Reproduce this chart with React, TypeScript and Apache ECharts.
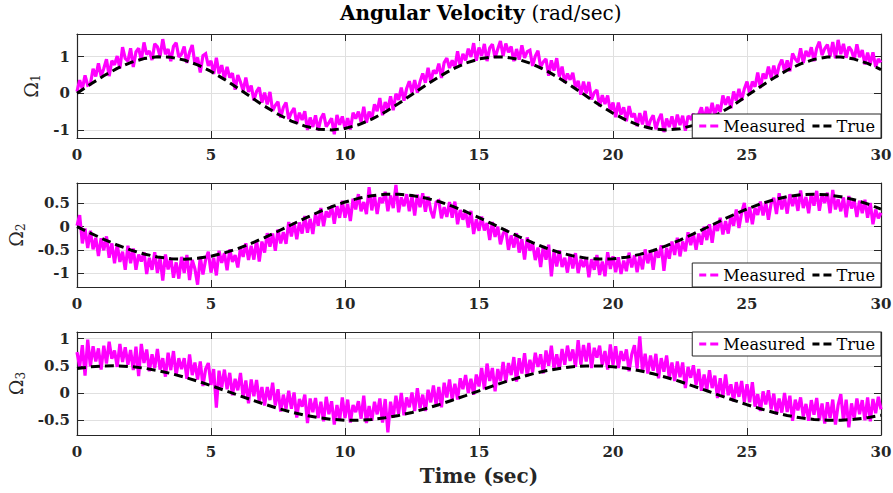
import React, { useEffect, useRef } from "react";
import * as echarts from "echarts";

// Sampling grids (seconds)
const timeMeasured: number[] = Array.from({ length: 301 }, (_, i) => i / 10);
const timeTrue: number[] = Array.from({ length: 61 }, (_, i) => i / 2);

// True angular velocities (every 0.5 s)
const omega1True = [0, 0.247, 0.479, 0.682, 0.841, 0.949, 0.997, 0.984, 0.909, 0.778, 0.598, 0.382, 0.141, -0.108, -0.351, -0.572, -0.757, -0.895, -0.978, -0.999, -0.959, -0.859, -0.706, -0.51, -0.279, -0.033, 0.215, 0.45, 0.657, 0.823, 0.938, 0.995, 0.989, 0.922, 0.798, 0.624, 0.412, 0.174, -0.075, -0.319, -0.544, -0.735, -0.88, -0.971, -1.0, -0.967, -0.875, -0.726, -0.537, -0.318, -0.066, 0.182, 0.42, 0.631, 0.804, 0.927, 0.991, 0.994, 0.935, 0.816, 0.65];
const omega2True = [0, -0.139, -0.272, -0.396, -0.502, -0.589, -0.652, -0.69, -0.7, -0.682, -0.636, -0.566, -0.473, -0.361, -0.235, -0.099, 0.041, 0.179, 0.31, 0.428, 0.53, 0.61, 0.667, 0.696, 0.697, 0.671, 0.618, 0.541, 0.442, 0.326, 0.195, 0.058, -0.082, -0.218, -0.346, -0.46, -0.556, -0.629, -0.678, -0.699, -0.692, -0.659, -0.598, -0.514, -0.41, -0.288, -0.156, -0.018, 0.122, 0.256, 0.381, 0.49, 0.58, 0.647, 0.687, 0.7, 0.686, 0.645, 0.579, 0.489, 0.376];
const omega3True = [0.449, 0.481, 0.497, 0.499, 0.485, 0.457, 0.414, 0.359, 0.293, 0.218, 0.136, 0.05, -0.037, -0.123, -0.206, -0.282, -0.349, -0.406, -0.451, -0.482, -0.498, -0.499, -0.485, -0.455, -0.412, -0.356, -0.289, -0.214, -0.132, -0.046, 0.041, 0.127, 0.21, 0.285, 0.352, 0.408, 0.452, 0.483, 0.498, 0.498, 0.483, 0.453, 0.409, 0.353, 0.286, 0.211, 0.128, 0.042, -0.046, -0.132, -0.214, -0.289, -0.356, -0.412, -0.455, -0.484, -0.499, -0.498, -0.483, -0.452, -0.408];

// Measured angular velocities (every 0.1 s)
const omega1Measured = [
  0.05, 0.36, 0.12, 0.49, 0.22, 0.25, 0.67, 0.46, 0.82, 0.47,
  0.68, 0.93, 0.47, 0.89, 0.78, 1.02, 0.68, 1.26, 0.95, 0.88,
  1.23, 0.72, 1.13, 1.23, 0.91, 1.39, 1.06, 1.16, 0.91, 1.35,
  1.27, 1.01, 1.48, 1.07, 1.21, 0.88, 1.28, 1.38, 0.99, 1.07,
  1.28, 0.83, 1.12, 1.32, 0.80, 0.98, 0.57, 1.03, 1.08, 0.75,
  0.89, 0.53, 0.97, 0.54, 0.77, 0.40, 0.72, 0.43, 0.55, 0.10,
  0.50, 0.31, 0.07, 0.43, 0.04, 0.21, -0.19, 0.05, 0.16, -0.25,
  0.02, -0.30, 0.04, -0.48, -0.33, -0.23, -0.66, -0.38, -0.25, -0.70,
  -0.52, -0.40, -0.83, -0.53, -0.73, -0.49, -1.00, -0.66, -0.92, -0.60,
  -1.01, -0.69, -0.55, -0.91, -0.80, -0.68, -1.12, -0.59, -0.86, -0.63,
  -0.96, -0.68, -0.99, -0.53, -0.69, -0.50, -0.78, -0.37, -0.80, -0.50,
  -0.69, -0.30, -0.49, -0.13, -0.60, -0.24, -0.43, -0.08, -0.46, -0.01,
  -0.18, 0.16, -0.20, 0.13, 0.33, 0.02, 0.36, 0.02, 0.32, 0.54,
  0.29, 0.70, 0.31, 0.63, 0.54, 0.81, 0.42, 0.84, 0.96, 0.69,
  0.90, 0.71, 1.15, 0.74, 1.08, 0.90, 1.22, 0.99, 1.37, 0.89,
  1.25, 1.02, 1.35, 0.88, 1.24, 1.34, 0.97, 1.21, 1.43, 1.02,
  1.36, 1.12, 1.28, 0.88, 1.21, 0.92, 1.31, 0.97, 1.14, 1.18,
  0.75, 1.02, 1.16, 0.72, 0.86, 0.94, 0.48, 0.90, 0.62, 0.96,
  0.46, 0.73, 0.29, 0.54, 0.37, 0.56, 0.15, 0.34, -0.04, 0.32,
  0.00, 0.31, -0.17, 0.02, 0.09, -0.35, -0.05, -0.29, -0.06, -0.48,
  -0.25, -0.65, -0.25, -0.58, -0.38, -0.76, -0.35, -0.65, -0.55, -0.90,
  -0.54, -0.85, -0.48, -0.97, -0.73, -0.60, -0.98, -0.72, -0.56, -1.06,
  -0.69, -0.92, -0.63, -0.96, -0.58, -0.87, -0.61, -1.02, -0.62, -0.69,
  -0.56, -0.88, -0.58, -0.38, -0.73, -0.37, -0.61, -0.26, -0.61, -0.31,
  -0.51, -0.06, -0.31, -0.09, -0.41, 0.05, -0.20, 0.12, -0.19, 0.12,
  0.32, 0.00, 0.32, 0.18, 0.57, 0.15, 0.54, 0.40, 0.73, 0.42,
  0.76, 0.44, 0.76, 0.92, 0.61, 0.90, 0.60, 1.09, 0.94, 0.85,
  1.23, 0.83, 1.16, 1.00, 1.26, 0.88, 1.23, 1.41, 1.04, 1.22,
  1.33, 1.01, 1.40, 0.96, 1.46, 1.07, 1.35, 0.97, 1.27, 1.17,
  0.92, 1.34, 0.99, 1.18, 0.79, 1.11, 0.81, 1.12, 0.72, 0.94,
  0.84,
];
const omega2Measured = [
  0.02, 0.25, -0.36, -0.04, -0.46, -0.09, -0.49, -0.24, -0.63, -0.25,
  -0.51, -0.21, -0.67, -0.36, -0.79, -0.38, -0.76, -0.54, -0.93, -0.41,
  -0.79, -0.47, -0.93, -0.60, -0.75, -0.55, -1.02, -0.67, -0.93, -0.55,
  -1.00, -0.67, -1.16, -0.60, -0.92, -0.67, -1.10, -0.77, -1.12, -0.65,
  -1.00, -0.61, -1.15, -0.72, -0.91, -1.25, -0.65, -1.03, -0.71, -0.54,
  -0.99, -0.67, -1.05, -0.52, -0.78, -0.57, -0.94, -0.49, -0.76, -0.61,
  -0.88, -0.46, -0.65, -0.36, -0.72, -0.41, -0.71, -0.29, -0.75, -0.32,
  -0.56, -0.14, -0.43, -0.15, -0.52, -0.06, -0.36, -0.12, -0.37, 0.10,
  -0.21, 0.09, -0.27, 0.09, -0.15, 0.23, -0.13, 0.17, -0.16, 0.28,
  0.02, 0.40, 0.01, 0.33, 0.20, 0.45, 0.06, 0.44, 0.19, 0.56,
  0.19, 0.49, 0.12, 0.60, 0.37, 0.70, 0.33, 0.53, 0.27, 0.85,
  0.35, 0.67, 0.27, 0.63, 0.51, 0.75, 0.33, 0.67, 0.40, 0.90,
  0.31, 0.63, 0.44, 0.70, 0.33, 0.66, 0.24, 0.69, 0.42, 0.72,
  0.32, 0.65, 0.35, 0.18, 0.53, 0.56, 0.18, 0.42, 0.21, 0.53,
  0.19, 0.54, 0.05, 0.36, 0.15, 0.33, -0.02, 0.34, -0.16, 0.16,
  -0.09, 0.22, -0.08, 0.08, -0.29, 0.10, -0.22, 0.00, -0.38, -0.15,
  -0.06, -0.50, -0.19, -0.45, -0.14, -0.56, -0.27, -0.71, -0.23, -0.52,
  -0.35, -0.72, -0.45, -0.87, -0.42, -0.71, -0.39, -1.07, -0.53, -0.86,
  -0.51, -0.87, -0.67, -0.99, -0.59, -0.90, -0.57, -1.00, -0.71, -0.87,
  -0.66, -1.09, -0.70, -0.93, -0.61, -1.04, -0.75, -1.07, -0.55, -0.91,
  -0.64, -0.98, -0.66, -1.02, -0.73, -0.96, -0.56, -0.88, -0.62, -0.98,
  -0.63, -0.92, -0.49, -0.79, -0.51, -0.93, -0.50, -0.67, -0.40, -0.95,
  -0.46, -0.69, -0.32, -0.61, -0.24, -0.64, -0.32, -0.53, -0.12, -0.40,
  -0.16, -0.50, -0.15, -0.39, 0.00, -0.29, 0.05, -0.35, 0.06, -0.09,
  0.19, -0.17, 0.12, -0.15, 0.23, 0.02, 0.37, -0.03, 0.30, 0.51,
  0.09, 0.42, 0.05, 0.40, 0.25, 0.54, 0.24, 0.53, 0.15, 0.50,
  0.62, 0.27, 0.72, 0.37, 0.62, 0.28, 0.70, 0.44, 0.67, 0.34,
  0.78, 0.40, 0.64, 0.29, 0.72, 0.45, 0.77, 0.34, 0.68, 0.51,
  0.73, 0.29, 0.79, 0.37, 0.59, 0.33, 0.63, 0.20, 0.66, 0.39,
  0.57, 0.21, 0.56, 0.29, 0.58, 0.19, 0.51, 0.05, 0.37, 0.18,
  0.30,
];
const omega3Measured = [
  0.75, 0.49, 0.88, 0.32, 0.98, 0.49, 0.86, 0.58, 0.82, 0.43,
  0.87, 0.54, 0.94, 0.63, 0.78, 0.48, 0.90, 0.57, 0.84, 0.52,
  0.79, 0.42, 0.85, 0.31, 0.90, 0.55, 0.80, 0.40, 0.71, 0.46,
  0.81, 0.43, 0.64, 0.30, 0.74, 0.42, 0.77, 0.32, 0.64, 0.44,
  0.64, 0.26, 0.71, 0.33, 0.56, 0.25, 0.58, 0.13, 0.44, 0.55,
  0.15, 0.44, -0.27, 0.41, 0.10, 0.43, 0.07, 0.37, -0.04, 0.26,
  0.05, 0.37, -0.08, 0.23, -0.19, 0.25, -0.06, 0.24, -0.16, 0.11,
  -0.23, 0.11, -0.13, 0.19, -0.23, 0.07, -0.34, -0.03, -0.29, 0.04,
  -0.29, 0.01, -0.45, -0.11, -0.25, -0.03, -0.55, -0.10, -0.35, -0.09,
  -0.46, -0.16, -0.52, -0.07, -0.39, -0.15, -0.58, -0.22, -0.50, -0.08,
  -0.46, -0.12, -0.54, -0.22, -0.35, -0.15, -0.47, -0.05, -0.55, -0.24,
  -0.51, -0.16, -0.39, -0.10, -0.54, -0.11, -0.72, -0.16, -0.45, -0.05,
  -0.38, 0.00, -0.41, -0.08, -0.26, 0.01, -0.33, 0.09, -0.28, -0.03,
  -0.33, 0.06, -0.17, 0.14, -0.22, 0.11, -0.26, 0.19, -0.08, 0.25,
  -0.12, 0.17, -0.12, 0.27, 0.07, 0.33, 0.00, 0.26, -0.03, 0.34,
  0.12, 0.46, 0.07, 0.54, 0.22, 0.46, 0.03, 0.44, 0.22, 0.57,
  0.20, 0.55, 0.33, 0.66, 0.21, 0.64, 0.36, 0.73, 0.31, 0.61,
  0.38, 0.74, 0.48, 0.71, 0.36, 0.78, 0.50, 0.87, 0.44, 0.71,
  0.43, 0.81, 0.52, 0.87, 0.59, 0.80, 0.48, 0.97, 0.52, 0.88,
  0.58, 0.92, 0.46, 0.83, 0.65, 0.87, 0.51, 0.77, 0.43, 0.89,
  0.52, 0.86, 0.46, 0.77, 0.59, 0.80, 0.40, 0.71, 0.88, 0.45,
  1.04, 0.39, 0.72, 0.36, 0.69, 0.41, 0.72, 0.27, 0.64, 0.39,
  0.69, 0.28, 0.56, 0.22, 0.58, 0.29, 0.56, 0.09, 0.48, 0.28,
  0.51, 0.15, 0.44, 0.04, 0.34, 0.05, 0.42, 0.09, 0.32, -0.09,
  0.27, -0.07, 0.34, -0.04, 0.16, -0.15, 0.20, -0.07, 0.22, -0.17,
  0.16, -0.17, 0.20, -0.25, -0.02, -0.33, 0.03, -0.21, 0.05, -0.30,
  -0.01, -0.39, -0.10, -0.36, 0.00, -0.35, -0.05, -0.51, -0.12, -0.32,
  -0.08, -0.43, -0.20, -0.51, -0.13, -0.40, -0.09, -0.50, -0.19, -0.56,
  -0.17, -0.46, -0.12, -0.58, -0.22, -0.02, -0.51, -0.12, -0.63, -0.19,
  -0.47, -0.10, -0.39, -0.13, -0.50, -0.08, -0.52, -0.11, -0.37, -0.07,
  -0.30,
];

const yTickStep = [1, 0.5, 0.5];
const yLimits: [number, number][] = [[-1.22, 1.62], [-1.3, 0.94], [-0.77, 1.12]];
const ySubscripts = ["1", "2", "3"];
const seriesNames = ["Measured", "True"];

const SERIF = "'DejaVu Serif', 'Liberation Serif', serif";
const AXIS_COLOR = "#262626";
const GRID_COLOR = "#e0e0e0";
const MAGENTA = "#FF00FF";
const DASH_ICON = "path://M0,0H7V3H0ZM11,0H19V3H11Z";

const gridBoxes = [
  { top: 34, height: 104 },
  { top: 183, height: 104 },
  { top: 332, height: 103 },
];

function pairs(t: number[], v: number[]) {
  return v.map((y, i) => [t[i], y]);
}

export default function App() {
  const ref = useRef<HTMLDivElement>(null);

  useEffect(() => {
    if (!ref.current) return;
    const chart = echarts.init(ref.current, undefined, { renderer: "svg" });

    const measured = [omega1Measured, omega2Measured, omega3Measured];
    const truth = [omega1True, omega2True, omega3True];

    const grid: any[] = [];
    const xAxis: any[] = [];
    const yAxis: any[] = [];
    const series: any[] = [];
    const legend: any[] = [];

    const tickLabel = {
      fontFamily: SERIF,
      fontWeight: "bold",
      fontSize: 15,
      color: AXIS_COLOR,
    };

    for (let i = 0; i < 3; i++) {
      grid.push({
        left: 77,
        right: 12,
        top: gridBoxes[i].top,
        height: gridBoxes[i].height,
        containLabel: false,
        outerBoundsMode: "none",
      });
      const axisLine = { show: true, onZero: false, lineStyle: { color: AXIS_COLOR, width: 1.2 } };
      const axisTick = { show: true, inside: true, length: 7, lineStyle: { color: AXIS_COLOR, width: 1 } };
      const splitLine = {
        show: true,
        showMinLine: false,
        showMaxLine: false,
        lineStyle: { color: GRID_COLOR, width: 1 },
      };
      xAxis.push({
        type: "value",
        gridIndex: i,
        position: "bottom",
        min: 0,
        max: 30,
        interval: 5,
        axisLine,
        axisTick,
        axisLabel: { show: true, margin: 9, ...tickLabel },
        splitLine,
        name: i === 2 ? "Time (sec)" : "",
        nameLocation: "middle",
        nameGap: 31,
        nameTextStyle: { fontFamily: SERIF, fontWeight: "bold", fontSize: 20, color: AXIS_COLOR },
      });
      xAxis.push({
        type: "value",
        gridIndex: i,
        position: "top",
        min: 0,
        max: 30,
        interval: 5,
        axisLine,
        axisTick,
        axisLabel: { show: false },
        splitLine: { show: false },
      });
      const step = yTickStep[i];
      const fmt = (v: number) => {
        const k = v / step;
        return Math.abs(k - Math.round(k)) < 1e-6 ? String(Math.round(v * 100) / 100) : "";
      };
      yAxis.push({
        type: "value",
        gridIndex: i,
        position: "left",
        min: yLimits[i][0],
        max: yLimits[i][1],
        splitNumber: i === 0 ? 3 : 4,
        axisLine,
        axisTick,
        axisLabel: { show: true, margin: 7, formatter: fmt, ...tickLabel },
        splitLine,
        name: `{o|Ω}{s|${ySubscripts[i]}}`,
        nameLocation: "middle",
        nameGap: 29,
        nameRotate: 90,
        nameTextStyle: {
          color: AXIS_COLOR,
          fontFamily: SERIF,
          rich: {
            o: { fontFamily: SERIF, fontSize: 19, lineHeight: 22, color: AXIS_COLOR },
            s: { fontFamily: SERIF, fontSize: 12, lineHeight: 12, verticalAlign: "bottom", color: AXIS_COLOR },
          },
        },
      });
      yAxis.push({
        type: "value",
        gridIndex: i,
        position: "right",
        min: yLimits[i][0],
        max: yLimits[i][1],
        splitNumber: i === 0 ? 3 : 4,
        axisLine,
        axisTick,
        axisLabel: { show: false },
        splitLine: { show: false },
      });
      series.push({
        type: "line",
        name: seriesNames[0],
        xAxisIndex: 2 * i,
        yAxisIndex: 2 * i,
        data: pairs(timeMeasured, measured[i]),
        symbol: "none",
        showSymbol: false,
        color: MAGENTA,
        lineStyle: { color: MAGENTA, width: 3.2, join: "miter", miterLimit: 2 },
        silent: true,
        z: 2,
      });
      series.push({
        type: "line",
        name: seriesNames[1],
        xAxisIndex: 2 * i,
        yAxisIndex: 2 * i,
        data: pairs(timeTrue, truth[i]),
        symbol: "none",
        showSymbol: false,
        color: "#000000",
        lineStyle: { color: "#000000", width: 3, type: [9, 5] },
        silent: true,
        z: 3,
      });
      const boxBottom = gridBoxes[i].top + gridBoxes[i].height;
      const pos: any = i === 2 ? { top: gridBoxes[i].top } : { bottom: 493 - boxBottom };
      legend.push({
        show: true,
        ...pos,
        right: 12,
        orient: "horizontal",
        data: seriesNames.map((n) => ({ name: n, icon: DASH_ICON })),
        itemWidth: 19,
        itemHeight: 3,
        itemGap: 7,
        padding: [4, 6, 4, 7],
        backgroundColor: "#ffffff",
        borderColor: AXIS_COLOR,
        borderWidth: 1,
        borderRadius: 0,
        selectedMode: false,
        itemStyle: { borderWidth: 0 },
        textStyle: { fontFamily: SERIF, fontSize: 16.2, color: "#000000" },
        z: 10,
      });
    }

    chart.setOption({
      animation: false,
      backgroundColor: "#ffffff",
      title: {
        text: "{b|Angular Velocity} {n|(rad/sec)}",
        left: 340,
        top: 3,
        padding: 0,
        textStyle: {
          fontFamily: SERIF,
          fontSize: 20,
          color: "#000000",
          rich: {
            b: { fontFamily: SERIF, fontWeight: "bold", fontSize: 20, color: "#000000" },
            n: { fontFamily: SERIF, fontWeight: "normal", fontSize: 20, color: "#000000" },
          },
        },
      },
      grid,
      xAxis,
      yAxis,
      legend,
      series,
    });

    return () => chart.dispose();
  }, []);

  return (
    <div
      ref={ref}
      style={{ position: "absolute", left: 0, top: 0, width: 893, height: 493, background: "#fff" }}
    />
  );
}
